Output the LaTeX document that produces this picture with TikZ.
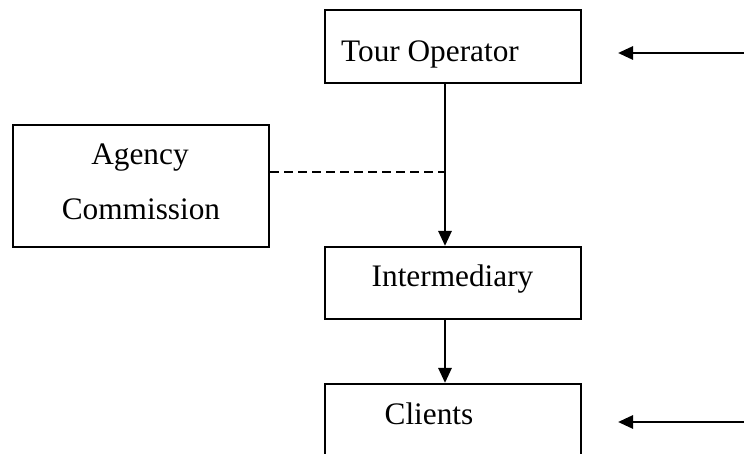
\documentclass[tikz,border=0pt]{standalone}
\usepackage{fontspec}
\setmainfont{Liberation Serif}
\usetikzlibrary{arrows.meta}
\begin{document}
\begin{tikzpicture}[x=1pt,y=-1pt,
  box/.style={draw=black,line width=2.1pt,rectangle,inner sep=0pt},
  lbl/.style={anchor=base,inner sep=0pt,font=\fontsize{31.3}{38}\selectfont},
  arr/.style={line width=2.8pt,-{Triangle[length=15pt,width=13pt]}},
  dsh/.style={line width=2pt,dash pattern=on 9pt off 5pt}]
\useasboundingbox (0,0) rectangle (744,454);
\clip (0,0) rectangle (744,454);
\fill[white] (0,0) rectangle (744,454);
% boxes
\node[box,minimum width=256pt,minimum height=73pt] (to) at (453,46.5) {};
\node[box,minimum width=256pt,minimum height=122pt] (ag) at (141,186) {};
\node[box,minimum width=256pt,minimum height=72pt] (im) at (453,283) {};
\node[box,minimum width=256pt,minimum height=100pt] (cl) at (453,434) {};
% labels
\node[lbl] (tot) at (430,62) {Tour Operator};
\node[lbl] (agt1) at (140,165) {Agency};
\node[lbl] (agt2) at (141,220) {Commission};
\node[lbl] (imt) at (452.5,287) {Intermediary};
\node[lbl] (clt) at (429,424) {Clients};
% connectors
\coordinate (vx) at (445,0);
\coordinate (dj) at (445,172);
\draw[arr] (to.south -| vx) -- (im.north -| vx);
\draw[arr] (im.south -| vx) -- (cl.north -| vx);
\draw[dsh] (dj -| ag.east) -- (dj);
\coordinate (r1s) at (744,53);
\coordinate (r1e) at (618,53);
\coordinate (r2s) at (744,422);
\coordinate (r2e) at (618,422);
\draw[arr] (r1s) -- (r1e);
\draw[arr] (r2s) -- (r2e);
\end{tikzpicture}
\end{document}
